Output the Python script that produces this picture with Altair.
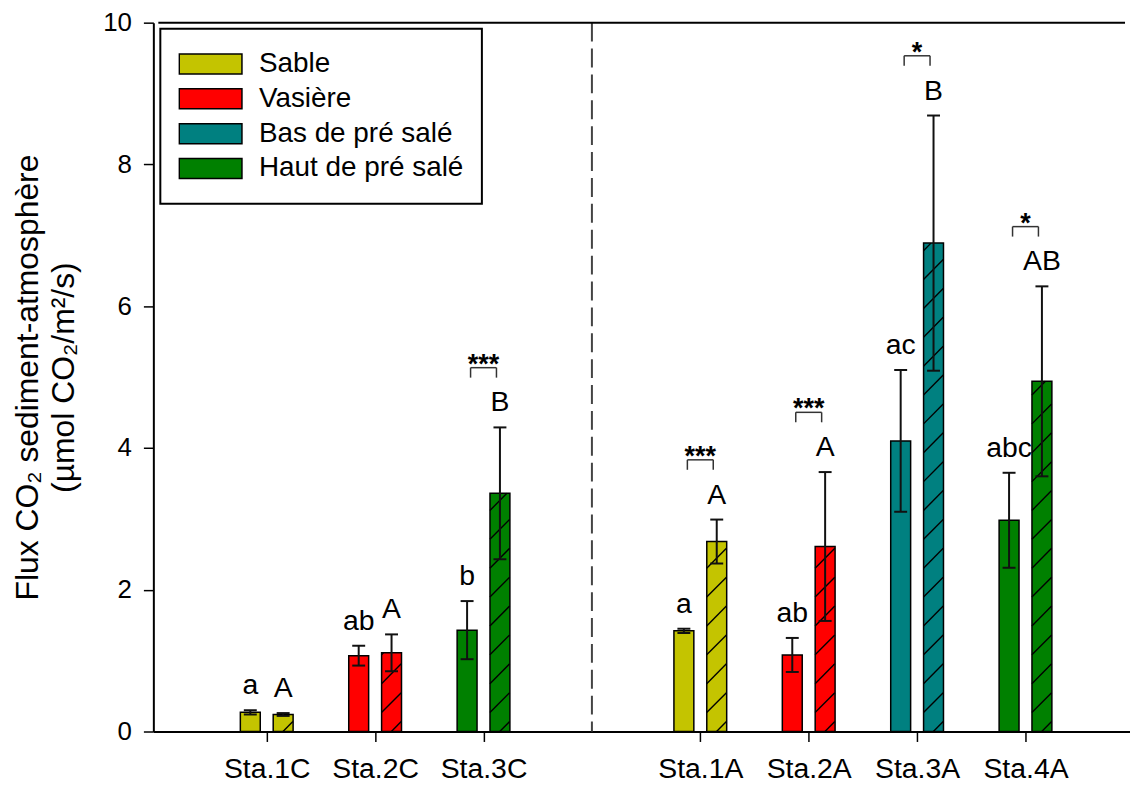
import altair as alt
import pandas as pd

# ---------------- data ----------------
stations = ["Sta.1C", "Sta.2C", "Sta.3C", "Sta.1A", "Sta.2A", "Sta.3A", "Sta.4A"]
positions = [1, 2, 3, 5, 6, 7, 8]
habitats = ["Sable", "Vasière", "Haut de pré salé", "Sable", "Vasière",
            "Bas de pré salé", "Haut de pré salé"]
solid_mean = [0.27, 1.07, 1.43, 1.42, 1.08, 4.10, 2.98]
solid_err = [0.03, 0.14, 0.41, 0.03, 0.24, 1.00, 0.67]
hatched_mean = [0.24, 1.11, 3.36, 2.68, 2.61, 6.89, 4.94]
hatched_err = [0.02, 0.26, 0.93, 0.31, 1.05, 1.80, 1.34]
solid_letters = ["a", "ab", "b", "a", "ab", "ac", "abc"]
hatched_letters = ["A", "A", "B", "A", "A", "B", "AB"]
signif = ["", "", "***", "***", "***", "*", "*"]
divider_pos = [4]
habitat_order = ["Sable", "Vasière", "Bas de pré salé", "Haut de pré salé"]
habitat_colors = ["#C4C400", "#FF0000", "#008080", "#008000"]
y_ticks = [0, 2, 4, 6, 8, 10]
y_title = ["Flux CO₂ sediment-atmosphère", "(µmol CO₂/m²/s)"]

# ---------------- layout / style ----------------
FONT = "Liberation Sans"
W, H = 981, 712
PXX = 110.0                 # px per x unit
XMAX = W / PXX
YMAX = 10
PXY = H / YMAX
BAR_W = 20
OFF = 16.5
CAP = 6.5
HATCH_GAP = 29

rows = []
for st, p, hb, sm, se, hm, he, sl, hl, sg in zip(
        stations, positions, habitats, solid_mean, solid_err, hatched_mean,
        hatched_err, solid_letters, hatched_letters, signif):
    rows.append(dict(st=st, pos=p, hab=hb, kind="solid", v=sm, lo=sm - se,
                     hi=sm + se, letter=sl, sig=""))
    rows.append(dict(st=st, pos=p, hab=hb, kind="hatched", v=hm, lo=hm - he,
                     hi=hm + he, letter=hl, sig=sg))
df = pd.DataFrame(rows)
df_s = df[df.kind == "solid"]
df_h = df[df.kind == "hatched"]
df_sig = df_h[df_h.sig != ""]

# hatch segments ("/" at 45 degrees in pixel space) clipped to each hatched bar
segs = []
for _, r in df_h.iterrows():
    hpx = r.v * PXY
    xl = r.pos + (OFF - BAR_W / 2) / PXX
    c = -BAR_W + 10
    while c < hpx:
        u0 = max(0.0, -c)
        u1 = min(float(BAR_W), hpx - c)
        if u1 > u0:
            segs.append(dict(x=xl + u0 / PXX, y=(u0 + c) / PXY,
                             x2=xl + u1 / PXX, y2=(u1 + c) / PXY))
        c += HATCH_GAP
df_seg = pd.DataFrame(segs)
df_div = pd.DataFrame({"pos": divider_pos})
df_top = pd.DataFrame({"x0": [0.0], "x1": [XMAX], "y": [YMAX]})

xs = alt.Scale(domain=[0, XMAX], nice=False, zero=False)
ys = alt.Scale(domain=[0, YMAX], nice=False)

label_expr = "".join(f"datum.value == {p} ? '{s}' : " for p, s in zip(positions, stations)) + "''"

x_axis = alt.Axis(values=positions, labelExpr=label_expr, title=None, grid=False,
                  tickSize=10, tickWidth=1.5, tickColor="black",
                  domainColor="black", domainWidth=2,
                  labelFontSize=28.5, labelFont=FONT, labelColor="black",
                  labelPadding=13)
y_axis = alt.Axis(values=y_ticks, format="d", grid=False, tickSize=10,
                  tickWidth=1.5, tickColor="black", domainColor="black",
                  domainWidth=2, labelFontSize=26, labelFont=FONT,
                  labelColor="black", labelPadding=12, title=y_title,
                  titleFontSize=32, titleFont=FONT, titleFontWeight="normal",
                  titleColor="black", titlePadding=22, titleLineHeight=36)


def X(f):
    return alt.X(f, scale=xs, axis=x_axis)


def Y(f):
    return alt.Y(f, scale=ys, axis=y_axis)


fill_scale = alt.Scale(domain=habitat_order, range=habitat_colors)
legend = alt.Legend(title=None, orient="none", legendX=7, legendY=6,
                    direction="vertical",
                    symbolType="M-1,-0.32L1,-0.32L1,0.32L-1,0.32Z",
                    symbolSize=3969, symbolStrokeColor="black",
                    symbolStrokeWidth=1.5, symbolOpacity=1,
                    labelFontSize=28, labelFont=FONT, labelColor="black",
                    labelLimit=500,
                    labelOffset=16, clipHeight=35, rowPadding=0, padding=18,
                    strokeColor="black", fillColor="white")

solid_bars = alt.Chart(df_s).mark_bar(size=BAR_W, xOffset=-OFF, stroke="black",
                                      strokeWidth=1.5).encode(
    x=X("pos:Q"), y=Y("v:Q"),
    fill=alt.Fill("hab:N", scale=fill_scale, legend=legend),
)
hatched_bars = alt.Chart(df_h).mark_bar(size=BAR_W, xOffset=OFF, stroke="black",
                                        strokeWidth=1.5).encode(
    x=X("pos:Q"), y=Y("v:Q"),
    fill=alt.Fill("hab:N", scale=fill_scale, legend=legend),
)
hatch = alt.Chart(df_seg).mark_rule(color="black", strokeWidth=1.4).encode(
    x=X("x:Q"), x2="x2:Q", y=Y("y:Q"), y2="y2:Q",
)


def errbars(d, off):
    stem = alt.Chart(d).mark_rule(color="#111", strokeWidth=2, xOffset=off).encode(
        x=X("pos:Q"), y=Y("lo:Q"), y2="hi:Q")
    cap_hi = alt.Chart(d).mark_rule(color="#111", strokeWidth=2,
                                    xOffset=off - CAP, x2Offset=off + CAP).encode(
        x=X("pos:Q"), x2="pos:Q", y=Y("hi:Q"))
    cap_lo = alt.Chart(d).mark_rule(color="#111", strokeWidth=2,
                                    xOffset=off - CAP, x2Offset=off + CAP).encode(
        x=X("pos:Q"), x2="pos:Q", y=Y("lo:Q"))
    text = alt.Chart(d).mark_text(xOffset=off, dy=-16, baseline="alphabetic",
                                  fontSize=28.5, font=FONT, color="black").encode(
        x=X("pos:Q"), y=Y("hi:Q"), text="letter:N")
    return [stem, cap_hi, cap_lo, text]


BR = 13
br_line = alt.Chart(df_sig).mark_rule(color="#333", strokeWidth=1.5,
                                      xOffset=-BR, x2Offset=BR,
                                      yOffset=-60, y2Offset=-60).encode(
    x=X("pos:Q"), x2="pos:Q", y=Y("hi:Q"), y2="hi:Q")
br_left = alt.Chart(df_sig).mark_rule(color="#333", strokeWidth=1.5,
                                      xOffset=-BR, yOffset=-60, y2Offset=-50).encode(
    x=X("pos:Q"), y=Y("hi:Q"), y2="hi:Q")
br_right = alt.Chart(df_sig).mark_rule(color="#333", strokeWidth=1.5,
                                       xOffset=BR, yOffset=-60, y2Offset=-50).encode(
    x=X("pos:Q"), y=Y("hi:Q"), y2="hi:Q")
stars = alt.Chart(df_sig).mark_text(dy=-55, baseline="alphabetic", fontSize=27,
                                    fontWeight="bold",
                                    font=FONT, color="black").encode(
    x=X("pos:Q"), y=Y("hi:Q"), text="sig:N")

divider = alt.Chart(df_div).mark_rule(color="#444", strokeWidth=2,
                                      strokeDash=[19, 7]).encode(x=X("pos:Q"))
top_line = alt.Chart(df_top).mark_rule(color="black", strokeWidth=2).encode(
    x=X("x0:Q"), x2="x1:Q", y=Y("y:Q"))

layers = [solid_bars, hatched_bars, hatch, divider, top_line]
layers += errbars(df_s, -OFF)
layers += errbars(df_h, OFF)
layers += [br_line, br_left, br_right, stars]

chart = alt.layer(*layers).properties(
    width=W, height=H,
    padding={"left": 4, "top": 0, "right": 0, "bottom": 0},
).configure_view(stroke=None).configure_legend(strokeWidth=2)

chart.save("out.html", embed_options={"renderer": "svg", "actions": False})
